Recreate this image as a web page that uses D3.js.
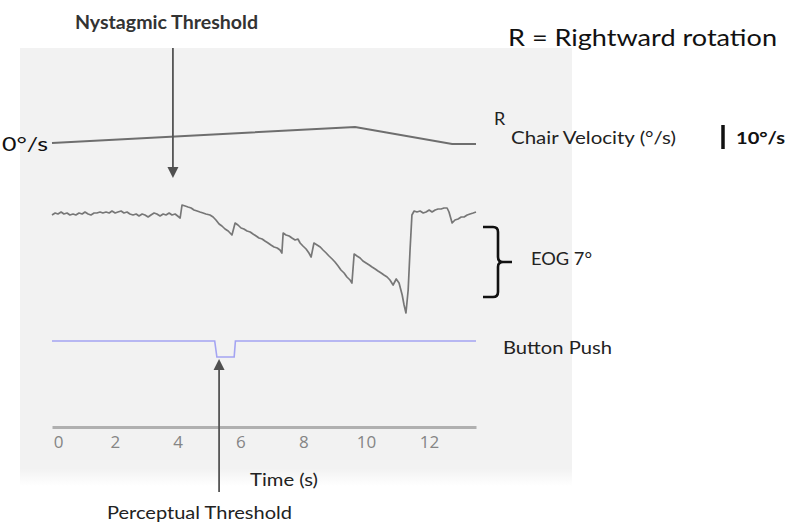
<!DOCTYPE html>
<html>
<head>
<meta charset="utf-8">
<script src="https://cdn.jsdelivr.net/npm/d3@7"></script>
<style>
  html, body { margin: 0; padding: 0; background: #fff; }
  svg { display: block; }
  text { font-family: Lato, "Open Sans", sans-serif; }
</style>
</head>
<body>
<div id="chart"></div>
<script>
// chair velocity (deg/s) over time (s)
const chairTime = [0, 9.65, 12.74, 13.5];
const chairVel = [0, 6.7, -0.4, -0.4];

// EOG eye position (deg) over time (s)
const eogTime = [0, 0.10, 0.19, 0.29, 0.38, 0.48, 0.57, 0.67, 0.76, 0.86, 0.96, 1.05, 1.15, 1.24, 1.34, 1.43, 1.53, 1.62, 1.72, 1.82,
  1.91, 2.01, 2.10, 2.20, 2.29, 2.39, 2.48, 2.58, 2.68, 2.77, 2.87, 2.96, 3.06, 3.15, 3.25, 3.34, 3.44, 3.54, 3.63, 3.73,
  3.82, 3.92, 4.04, 4.08, 4.14, 4.24, 4.33, 4.43, 4.52, 4.62, 4.71, 4.81, 4.90, 5.03, 5.13, 5.22, 5.32, 5.41, 5.51, 5.61,
  5.73, 5.83, 5.92, 6.02, 6.11, 6.21, 6.31, 6.40, 6.50, 6.59, 6.69, 6.78, 6.88, 6.97, 7.07, 7.17, 7.26, 7.32, 7.36, 7.45,
  7.55, 7.64, 7.74, 7.83, 7.90, 7.99, 8.09, 8.18, 8.25, 8.34, 8.44, 8.54, 8.63, 8.73, 8.82, 8.92, 9.01, 9.11, 9.20, 9.30,
  9.39, 9.49, 9.55, 9.62, 9.71, 9.81, 9.90, 10.00, 10.10, 10.19, 10.29, 10.38, 10.48, 10.57, 10.67, 10.76, 10.86, 10.96, 11.05, 11.15,
  11.21, 11.27, 11.34, 11.40, 11.46, 11.53, 11.62, 11.72, 11.82, 11.91, 12.01, 12.10, 12.20, 12.29, 12.39, 12.48, 12.58, 12.64, 12.74, 12.83,
  12.93, 13.03, 13.12, 13.22, 13.31, 13.41, 13.50];
const eogDeg = [0, 0.2, 0.1, 0.3, 0.1, 0.2, 0, 0.1, 0, 0.2, 0.1, 0.3, 0.1, 0, 0.2, 0.2, 0.3, 0.2, 0.3, 0.2,
  0.4, 0.2, 0.3, 0.4, 0.2, 0.3, 0.1, 0, 0.1, -0.1, 0.1, 0, -0.2, 0, 0.2, 0.1, -0.1, 0.1, 0, 0.2,
  0, 0.1, -0.2, -0.3, 1.0, 0.9, 0.8, 0.7, 0.5, 0.4, 0.3, 0.2, 0.1, 0, -0.2, -0.5, -0.9, -1.1, -1.4, -1.6,
  -2.0, -0.8, -1.0, -1.3, -1.4, -1.6, -1.7, -1.9, -2.1, -2.3, -2.4, -2.6, -2.8, -3.0, -3.2, -3.3, -3.5, -3.8, -1.8, -2.0,
  -2.1, -2.3, -2.5, -2.4, -2.8, -3.1, -3.4, -3.8, -4.2, -2.8, -3.0, -3.2, -3.5, -3.8, -4.1, -4.4, -4.7, -5.1, -5.5, -5.8,
  -6.2, -6.5, -6.8, -3.9, -4.1, -4.3, -4.6, -4.8, -5.0, -5.2, -5.4, -5.6, -5.8, -6.0, -6.2, -6.5, -7.0, -6.4, -6.8, -8.0,
  -9.0, -9.8, -7.5, -3.5, 0, 0.4, 0.3, 0.4, 0.2, 0.3, 0.5, 0.3, 0.5, 0.6, 0.6, 0.7, 0.7, 0.3, -0.8, -0.5,
  -0.4, -0.2, -0.2, 0, 0.1, 0.2, 0.3];

// button push (1 = pressed)
const buttonTime = [0, 5.18, 5.25, 5.8, 5.84, 13.5];
const buttonState = [0, 0, 1, 1, 0, 0];

const timeTicks = [0, 2, 4, 6, 8, 10, 12];
const nystagmicTime = 3.85;
const perceptualTime = 5.32;
const eogBracket = [-1.2, -8.2]; // 7 deg

const width = 789, height = 527;
const svg = d3.select('#chart').append('svg')
  .attr('width', width)
  .attr('height', height);

// grey panel with faded bottom edge
const grad = svg.append('defs').append('linearGradient')
  .attr('id', 'panelFade').attr('x1', 0).attr('y1', 0).attr('x2', 0).attr('y2', 1);
grad.append('stop').attr('offset', '0.96').attr('stop-color', '#f2f2f2');
grad.append('stop').attr('offset', '1').attr('stop-color', '#ffffff');
svg.append('rect')
  .attr('x', 20).attr('y', 48)
  .attr('width', 552).attr('height', 438)
  .attr('fill', 'url(#panelFade)');

const x = d3.scaleLinear().domain([0, 13.5]).range([52, 476]);
const yChair = d3.scaleLinear().domain([0, 10]).range([143, 119]);
const yEog = d3.scaleLinear().domain([0, -10]).range([215, 315]);
const yButton = d3.scaleLinear().domain([0, 1]).range([341, 357]);

const line = d3.line().x(d => x(d[0])).y(d => d[1]);

// chair velocity trace
svg.append('path')
  .attr('d', line(chairTime.map((t, i) => [t, yChair(chairVel[i])])))
  .attr('fill', 'none')
  .attr('stroke', '#6e6e6e')
  .attr('stroke-width', 2);

// EOG trace
svg.append('path')
  .attr('d', line(eogTime.map((t, i) => [t, yEog(eogDeg[i])])))
  .attr('fill', 'none')
  .attr('stroke', '#777')
  .attr('stroke-width', 1.7)
  .attr('stroke-linejoin', 'round');

// button push
svg.append('path')
  .attr('d', line(buttonTime.map((t, i) => [t, yButton(buttonState[i])])))
  .attr('fill', 'none')
  .attr('stroke', '#a4a4f2')
  .attr('stroke-width', 1.6);

// time axis
const axis = svg.append('g')
  .attr('transform', 'translate(0,427)')
  .attr('font-size', null)
  .call(d3.axisBottom(x).tickValues(timeTicks).tickSize(0).tickPadding(9).tickSizeOuter(0));
axis.attr('font-size', 17);
axis.select('.domain').attr('stroke', '#b0b0b0').attr('stroke-width', 3);
axis.selectAll('.tick text')
  .attr('fill', '#858585')
  .style('font-size', '17px')
  .style('font-family', '"Open Sans", sans-serif');
axis.selectAll('.tick').filter(d => d === 0).select('text').attr('dx', 6);

// arrows
function arrow(xPos, yFrom, yTip) {
  const dir = yTip > yFrom ? 1 : -1;
  const headLen = 11, headHalf = 5.5;
  svg.append('line')
    .attr('x1', xPos).attr('x2', xPos)
    .attr('y1', yFrom).attr('y2', yTip - dir * headLen)
    .attr('stroke', '#555').attr('stroke-width', 1.8);
  svg.append('path')
    .attr('d', `M${xPos},${yTip} L${xPos - headHalf},${yTip - dir * headLen} L${xPos + headHalf},${yTip - dir * headLen} Z`)
    .attr('fill', '#505050');
}
arrow(x(nystagmicTime), 48, 178);
arrow(x(perceptualTime), 492, 359);

// EOG bracket
const bTop = yEog(eogBracket[0]), bBot = yEog(eogBracket[1]);
const bMid = (bTop + bBot) / 2;
svg.append('path')
  .attr('d', `M483,${bTop} L493,${bTop} Q498,${bTop} 498,${bTop + 5} L498,${bMid - 5} Q498,${bMid} 503,${bMid} L512,${bMid}
    M503,${bMid} Q498,${bMid} 498,${bMid + 5} L498,${bBot - 5} Q498,${bBot} 493,${bBot} L483,${bBot}`)
  .attr('fill', 'none')
  .attr('stroke', '#111')
  .attr('stroke-width', 2.6);

// 10 deg/s scale bar
svg.append('line')
  .attr('x1', 723).attr('x2', 723)
  .attr('y1', yChair(0) + 6).attr('y2', yChair(10) + 6)
  .attr('stroke', '#111').attr('stroke-width', 3.5);

function label(txt, x0, x1, y, size, opts = {}) {
  const t = svg.append('text')
    .attr('x', x0).attr('y', y)
    .attr('dominant-baseline', 'central')
    .style('font-size', size + 'px')
    .attr('font-weight', opts.bold ? 'bold' : 'normal')
    .attr('fill', opts.fill || '#1a1a1a')
    .text(txt);
  if (x1 != null) {
    t.attr('textLength', x1 - x0).attr('lengthAdjust', 'spacingAndGlyphs');
  }
}

label('Nystagmic Threshold', 75, 258, 22, 18, { bold: true, fill: '#333' });
label('R = Rightward rotation', 508, 777, 36, 24, { fill: '#111' });
label('0°/s', 2, 48, 143, 20, { fill: '#111' });
label('R', 494, null, 118, 18, { fill: '#222' });
label('Chair Velocity (°/s)', 511, 676, 137, 17, { fill: '#222' });
label('10°/s', 736, 785, 137, 17, { bold: true, fill: '#111' });
label('EOG 7°', 531, 592, 258, 17, { fill: '#222' });
label('Button Push', 503, 612, 347, 18, { fill: '#222' });
label('Time (s)', 250, 318, 479, 17, { fill: '#222' });
label('Perceptual Threshold', 107, 292, 512, 17, { fill: '#222' });
</script>
</body>
</html>
